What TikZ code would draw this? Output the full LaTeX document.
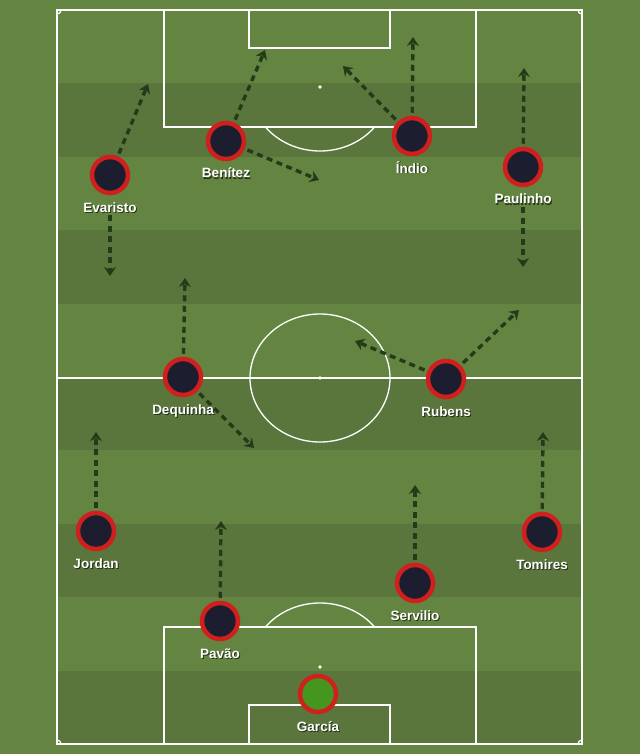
\documentclass[tikz,border=0pt]{standalone}
\usepackage{fontspec}
\setmainfont{Liberation Sans}
\usetikzlibrary{arrows.meta}

\definecolor{grass}{RGB}{100,133,66}
\definecolor{grassdark}{RGB}{90,118,60}
\definecolor{runline}{RGB}{36,58,25}
\definecolor{shirt}{RGB}{29,29,48}
\definecolor{ring}{RGB}{208,32,30}
\definecolor{keeper}{RGB}{68,150,30}

\begin{document}
\begin{tikzpicture}[x=1pt, y=-1pt,
    pitchline/.style={draw=white, line width=1.3pt},
    player/.style={circle, fill=shirt, draw=ring, line width=4.5pt, minimum size=36pt, inner sep=0pt},
    goalie/.style={player, fill=keeper},
    tag/.style={text=white, font=\fontsize{13.5}{16}\selectfont\bfseries, anchor=base, inner sep=0pt},
    tagshade/.style={tag, text=black, opacity=0.6},
    run/.style={draw=runline, line width=3.4pt, dash pattern=on 6pt off 4.5pt, shorten <=3pt,
                -{Stealth[length=9pt, width=12pt, inset=3pt]}}]
    \def\field{(57,10) rectangle (582,744)}
    \def\centrering{(320,378) ellipse[x radius=70, y radius=64]}

    \useasboundingbox (0,0) rectangle (640,754);
    \fill[grass] (0,0) rectangle (640,754);
    \foreach \i in {1,3,...,9}
        \fill[grassdark] (57,10+\i*73.4) rectangle (582,10+\i*73.4+73.4);

    \begin{scope}
        \clip \field;
        \foreach \cx/\cy in {57/10, 582/10, 57/744, 582/744}
            \draw[pitchline] (\cx,\cy) circle[radius=4];
    \end{scope}
    \draw[pitchline] \field;
    \draw[pitchline] (57,378) -- (582,378);
    \draw[pitchline] \centrering;
    \fill[white] (320,378) circle[radius=1.8];

    \draw[pitchline] (164,10) rectangle (476,127);
    \draw[pitchline] (249,10) rectangle (390,48);
    \fill[white] (320,87) circle[radius=1.8];
    \draw[pitchline] (164,627) rectangle (476,744);
    \draw[pitchline] (249,705) rectangle (390,744);
    \fill[white] (320,667) circle[radius=1.8];
    \begin{scope}
        \clip (164,127) rectangle (476,170);
        \draw[pitchline] (320,87) ellipse[x radius=70, y radius=64];
    \end{scope}
    \begin{scope}
        \clip (164,590) rectangle (476,627);
        \draw[pitchline] (320,667) ellipse[x radius=70, y radius=64];
    \end{scope}

    \foreach \id/\x/\y/\txt in {evaristo/110/175/Evaristo, benitez/226/141/Benítez,
            indio/412/136/Índio, paulinho/523/167/Paulinho, dequinha/183/377/Dequinha,
            rubens/446/379/Rubens, jordan/96/531/Jordan, tomires/542/532/Tomires,
            servilio/415/583/Servilio, pavao/220/621/Pavão} {
        \node[player] (\id) at (\x,\y) {};
        \node[tagshade] (\id-s) at (\x+1,\y+38) {\txt};
        \node[tag] (\id-t) at (\x,\y+37) {\txt};
    }
    \node[goalie] (garcia) at (318,694) {};
    \node[tagshade] (garcia-s) at (319,732) {García};
    \node[tag] (garcia-t) at (318,731) {García};

    \foreach \id/\x/\y in {evaristo/148/84, evaristo-t/110/276, benitez/265/50, benitez/319/180,
            indio/413/37, indio/343/66, paulinho/524/68, paulinho-t/523/267,
            dequinha/185/278, dequinha/254/448, rubens/519/310, rubens/355/341,
            jordan/96/432, pavao/221/521, servilio/415/485, tomires/543/432} {
        \coordinate (\id-\x) at (\x,\y);
        \draw[run] (\id) -- (\id-\x);
    }
\end{tikzpicture}
\end{document}
